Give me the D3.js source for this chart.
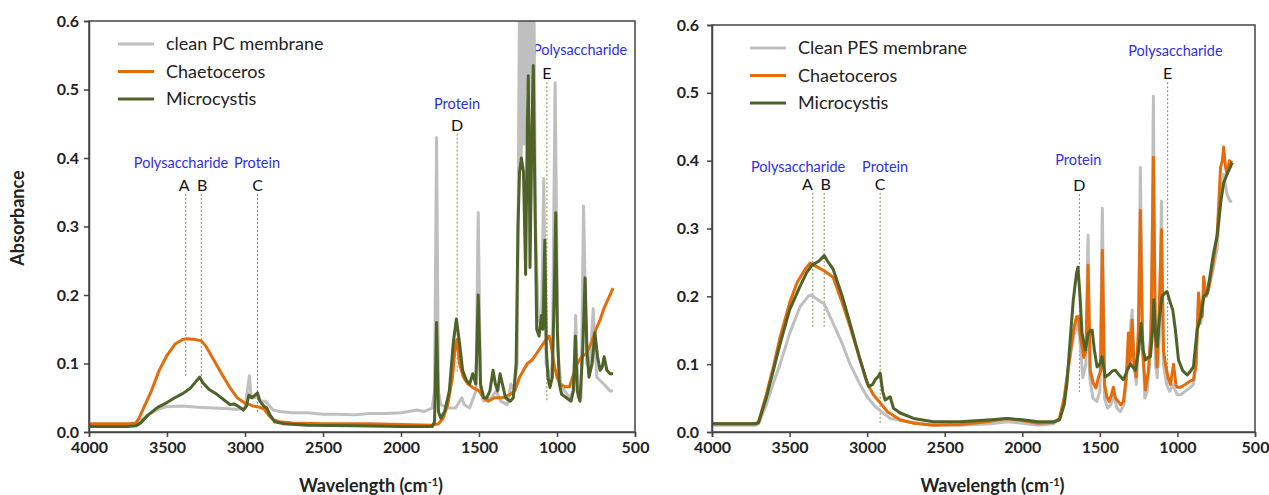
<!DOCTYPE html>
<html lang="en">
<head>
  <meta charset="UTF-8">
  <title>FTIR spectra of fouled membranes</title>
  <script src="https://d3js.org/d3.v7.min.js"></script>
  <style>
    body { margin: 0; background: #fff; }
    .tick text { font-family: Lato, "Open Sans", sans-serif; font-size: 16px; font-weight: bold; fill: #222; }
    .tick line, .domain { stroke: #444; stroke-width: 1.5px; }
    .frame { fill: none; stroke: #444; stroke-width: 1.5px; }
    .spec { fill: none; stroke-width: 3px; stroke-linejoin: round; }
    .legend text { font-family: Lato, "Open Sans", sans-serif; font-size: 18px; fill: #222; }
    .group { font-family: Lato, "Open Sans", sans-serif; font-size: 14.5px; fill: #3030e0; text-anchor: middle; }
    .letter { font-family: Lato, "Open Sans", sans-serif; font-size: 16px; fill: #111; text-anchor: middle; }
    .mark { stroke: #8a8a40; stroke-width: 1px; stroke-dasharray: 2,2; }
    .axis-title { font-family: Lato, "Open Sans", sans-serif; font-size: 18px; font-weight: bold; fill: #222; }
  </style>
</head>
<body>
<svg id="chart" width="1269" height="495"></svg>

<script>
  // ticks
  const xTicks = [4000, 3500, 3000, 2500, 2000, 1500, 1000, 500];
  const yTicks = [0, 0.1, 0.2, 0.3, 0.4, 0.5, 0.6];

  const seriesNames = ["Chaetoceros", "Microcystis"];
  const colors = ["#bfbfbf", "#e46c0a", "#4f6228"];

  // left panel: PC membrane, [wavenumber, absorbance]
  const pcClean = [[4000,0.01],[3750,0.01],[3700,0.012],[3650,0.02],[3600,0.028],[3550,0.034],[3500,0.037],[3400,0.038],[3300,0.036],[3200,0.035],[3100,0.034],[3050,0.033],[3000,0.035],[2985,0.06],[2972,0.082],[2960,0.05],[2935,0.05],[2920,0.055],[2900,0.045],[2870,0.045],[2850,0.04],[2820,0.032],[2780,0.03],[2700,0.028],[2600,0.028],[2500,0.026],[2400,0.026],[2300,0.025],[2200,0.027],[2100,0.027],[2000,0.028],[1950,0.03],[1900,0.032],[1850,0.03],[1800,0.035],[1785,0.06],[1772,0.43],[1760,0.06],[1745,0.04],[1700,0.035],[1650,0.035],[1610,0.05],[1595,0.04],[1560,0.035],[1520,0.06],[1505,0.32],[1490,0.06],[1470,0.045],[1420,0.05],[1390,0.06],[1360,0.045],[1320,0.04],[1295,0.07],[1275,0.06],[1255,0.1],[1240,0.65],[1230,0.4],[1220,0.65],[1210,0.42],[1198,0.65],[1185,0.5],[1172,0.65],[1160,0.48],[1148,0.65],[1138,0.3],[1120,0.17],[1100,0.15],[1085,0.37],[1070,0.1],[1045,0.08],[1030,0.1],[1012,0.51],[995,0.12],[975,0.07],[950,0.06],[920,0.05],[895,0.06],[880,0.17],[865,0.05],[845,0.05],[830,0.33],[810,0.1],[790,0.09],[768,0.18],[745,0.08],[700,0.07],[660,0.06],[641,0.06]];
  const pcChaeto = [[4000,0.012],[3750,0.012],[3700,0.013],[3680,0.02],[3640,0.04],[3600,0.06],[3550,0.09],[3500,0.112],[3450,0.128],[3400,0.135],[3370,0.136],[3320,0.135],[3280,0.133],[3250,0.125],[3200,0.105],[3150,0.085],[3100,0.066],[3050,0.05],[3000,0.042],[2970,0.04],[2950,0.038],[2920,0.037],[2880,0.034],[2850,0.025],[2820,0.018],[2780,0.015],[2700,0.013],[2500,0.012],[2200,0.012],[2000,0.011],[1800,0.01],[1760,0.012],[1730,0.02],[1700,0.04],[1670,0.08],[1650,0.13],[1640,0.135],[1625,0.1],[1600,0.08],[1570,0.07],[1540,0.065],[1500,0.06],[1470,0.05],[1440,0.045],[1400,0.05],[1350,0.05],[1300,0.055],[1270,0.06],[1240,0.08],[1215,0.09],[1190,0.1],[1160,0.105],[1130,0.115],[1100,0.125],[1070,0.135],[1050,0.14],[1040,0.13],[1020,0.1],[1000,0.08],[980,0.07],[950,0.066],[920,0.066],[900,0.08],[870,0.1],[840,0.11],[810,0.115],[780,0.13],[750,0.15],[725,0.163],[700,0.18],[670,0.195],[641,0.21]];
  const pcMicro = [[4000,0.008],[3750,0.008],[3700,0.009],[3670,0.013],[3620,0.025],[3560,0.036],[3500,0.043],[3450,0.05],[3400,0.056],[3350,0.064],[3310,0.075],[3290,0.08],[3270,0.072],[3230,0.062],[3180,0.055],[3130,0.046],[3096,0.04],[3070,0.041],[3040,0.037],[3010,0.032],[2990,0.038],[2975,0.054],[2955,0.05],[2935,0.054],[2920,0.057],[2905,0.045],[2880,0.038],[2860,0.035],[2840,0.025],[2810,0.015],[2750,0.012],[2600,0.01],[2300,0.009],[2000,0.008],[1800,0.008],[1785,0.015],[1772,0.16],[1760,0.03],[1745,0.02],[1720,0.03],[1690,0.06],[1665,0.13],[1645,0.165],[1625,0.13],[1605,0.09],[1580,0.075],[1560,0.07],[1540,0.085],[1520,0.07],[1505,0.2],[1490,0.07],[1470,0.05],[1450,0.05],[1430,0.06],[1410,0.09],[1395,0.07],[1380,0.06],[1365,0.085],[1350,0.07],[1330,0.05],[1300,0.045],[1280,0.05],[1262,0.1],[1250,0.3],[1240,0.38],[1228,0.4],[1215,0.38],[1201,0.23],[1190,0.45],[1184,0.52],[1178,0.4],[1173,0.24],[1160,0.45],[1152,0.535],[1142,0.35],[1130,0.15],[1115,0.14],[1100,0.17],[1090,0.15],[1078,0.28],[1068,0.12],[1058,0.08],[1045,0.065],[1030,0.08],[1018,0.2],[1008,0.32],[998,0.15],[985,0.07],[970,0.055],[940,0.05],[910,0.045],[895,0.06],[882,0.14],[870,0.06],[853,0.045],[835,0.12],[820,0.225],[808,0.12],[795,0.08],[775,0.1],[757,0.145],[740,0.11],[724,0.09],[710,0.095],[698,0.11],[680,0.09],[660,0.085],[641,0.085]];

  // right panel: PES membrane
  const pesClean = [[4000,0.01],[3720,0.01],[3700,0.012],[3650,0.04],[3600,0.075],[3561,0.1],[3500,0.145],[3432,0.185],[3380,0.2],[3361,0.202],[3300,0.192],[3277,0.189],[3219,0.16],[3160,0.13],[3110,0.1],[3050,0.072],[3000,0.052],[2950,0.038],[2897,0.028],[2850,0.02],[2742,0.015],[2600,0.011],[2400,0.01],[2200,0.012],[2100,0.015],[2000,0.013],[1900,0.01],[1800,0.012],[1760,0.018],[1730,0.05],[1700,0.1],[1670,0.14],[1645,0.16],[1630,0.14],[1610,0.08],[1590,0.1],[1576,0.29],[1565,0.08],[1545,0.05],[1520,0.045],[1500,0.06],[1484,0.33],[1470,0.05],[1450,0.035],[1430,0.04],[1410,0.055],[1390,0.035],[1368,0.03],[1345,0.04],[1320,0.1],[1300,0.16],[1292,0.18],[1280,0.1],[1265,0.07],[1250,0.14],[1239,0.39],[1225,0.15],[1210,0.05],[1195,0.06],[1180,0.1],[1165,0.2],[1155,0.495],[1142,0.1],[1130,0.08],[1115,0.15],[1103,0.34],[1090,0.1],[1070,0.07],[1050,0.06],[1030,0.07],[1002,0.055],[980,0.055],[950,0.06],[920,0.065],[897,0.07],[880,0.1],[865,0.19],[850,0.16],[830,0.2],[800,0.21],[770,0.24],[744,0.27],[720,0.35],[702,0.38],[680,0.35],[660,0.34],[647,0.34]];
  const pesChaeto = [[4000,0.012],[3720,0.012],[3700,0.015],[3650,0.055],[3600,0.1],[3561,0.14],[3500,0.19],[3452,0.22],[3400,0.24],[3368,0.249],[3320,0.243],[3280,0.238],[3219,0.228],[3160,0.19],[3110,0.155],[3050,0.11],[3000,0.072],[2960,0.055],[2916,0.043],[2870,0.03],[2787,0.018],[2700,0.013],[2574,0.01],[2400,0.011],[2200,0.016],[2100,0.02],[2000,0.017],[1900,0.013],[1800,0.014],[1760,0.02],[1730,0.05],[1700,0.1],[1670,0.15],[1650,0.17],[1639,0.17],[1625,0.14],[1604,0.11],[1590,0.12],[1576,0.246],[1562,0.09],[1542,0.072],[1525,0.065],[1510,0.08],[1495,0.09],[1484,0.268],[1470,0.07],[1455,0.052],[1440,0.045],[1425,0.055],[1413,0.066],[1400,0.05],[1381,0.045],[1365,0.04],[1348,0.045],[1330,0.08],[1316,0.146],[1305,0.1],[1292,0.165],[1280,0.1],[1266,0.081],[1252,0.15],[1239,0.327],[1225,0.12],[1206,0.062],[1187,0.09],[1170,0.15],[1155,0.405],[1142,0.14],[1131,0.096],[1115,0.2],[1103,0.298],[1090,0.12],[1077,0.1],[1060,0.08],[1045,0.07],[1025,0.1],[1010,0.07],[1002,0.066],[980,0.066],[950,0.07],[920,0.075],[897,0.077],[880,0.1],[864,0.205],[850,0.17],[840,0.17],[831,0.229],[815,0.2],[800,0.21],[770,0.25],[744,0.29],[722,0.39],[710,0.4],[702,0.42],[690,0.39],[680,0.38],[665,0.4],[647,0.397]];
  const pesMicro = [[4000,0.012],[3720,0.012],[3700,0.014],[3650,0.05],[3600,0.095],[3561,0.13],[3500,0.18],[3432,0.215],[3390,0.235],[3355,0.246],[3310,0.252],[3277,0.26],[3250,0.25],[3219,0.24],[3160,0.2],[3110,0.16],[3050,0.11],[3010,0.08],[2990,0.067],[2965,0.07],[2948,0.077],[2925,0.083],[2916,0.087],[2900,0.06],[2884,0.047],[2865,0.05],[2852,0.052],[2830,0.035],[2787,0.028],[2700,0.02],[2574,0.015],[2400,0.015],[2200,0.018],[2100,0.02],[2000,0.018],[1900,0.015],[1800,0.015],[1760,0.018],[1730,0.04],[1712,0.072],[1690,0.14],[1671,0.195],[1650,0.235],[1641,0.243],[1628,0.2],[1615,0.146],[1594,0.121],[1574,0.146],[1560,0.15],[1550,0.15],[1535,0.12],[1518,0.096],[1500,0.1],[1486,0.111],[1465,0.081],[1440,0.085],[1420,0.09],[1400,0.091],[1380,0.085],[1348,0.077],[1325,0.09],[1303,0.1],[1285,0.095],[1271,0.091],[1250,0.12],[1234,0.16],[1220,0.12],[1206,0.106],[1190,0.11],[1174,0.111],[1160,0.15],[1152,0.195],[1140,0.14],[1131,0.126],[1115,0.17],[1099,0.2],[1080,0.205],[1067,0.207],[1045,0.19],[1030,0.18],[1013,0.15],[993,0.106],[965,0.09],[937,0.084],[915,0.09],[897,0.096],[873,0.15],[850,0.17],[830,0.2],[808,0.205],[790,0.23],[770,0.26],[744,0.29],[720,0.34],[702,0.367],[680,0.38],[660,0.39],[647,0.397]];

  // band markers: letter, line wavenumber, letter wavenumber, letter baseline, bottom of dotted line
  const pcMarks = [["A",3380,3390,0.352,0.079],["B",3280,3275,0.352,0.061],["C",2920,2920,0.352,0.028],["D",1640,1640,0.44,0.088],["E",1065,1065,0.515,0.044]];
  const pesMarks = [["A",3350,3385,0.357,0.155],["B",3277,3268,0.357,0.155],["C",2916,2916,0.357,0.013],["D",1632,1632,0.355,0.059],["E",1063,1063,0.52,0.062]];
  // group names: text, wavenumber (centre), baseline
  const pcGroups = [["Polysaccharide",3410,0.385],["Protein",2923,0.385],["Protein",1641,0.472],["Polysaccharide",852,0.55]];
  const pesGroups = [["Polysaccharide",3445,0.383],["Protein",2884,0.383],["Protein",1639,0.394],["Polysaccharide",1013,0.555]];

  const svg = d3.select("#chart");

  function drawPanel(p) {
    const x = d3.scaleLinear().domain([4000, 500]).range([p.left, p.right]);
    const y = d3.scaleLinear().domain([0, 0.6]).range([p.bottom, p.top]);
    const g = svg.append("g");

    g.append("clipPath").attr("id", p.id + "-clip")
      .append("rect")
      .attr("x", p.left).attr("y", p.top)
      .attr("width", p.right - p.left).attr("height", p.bottom - p.top);

    // dotted band markers (under the curves)
    const marks = g.append("g");
    marks.selectAll("line").data(p.marks).join("line")
      .attr("class", "mark")
      .attr("x1", d => x(d[1])).attr("x2", d => x(d[1]))
      .attr("y1", d => y(d[3]) + 3).attr("y2", d => y(d[4]));

    const line = d3.line().x(d => x(d[0])).y(d => y(d[1]));
    const curves = g.append("g").attr("clip-path", `url(#${p.id}-clip)`);
    curves.selectAll("path").data(p.series).join("path")
      .attr("class", "spec")
      .attr("stroke", (d, i) => colors[i])
      .attr("d", line);

    marks.selectAll("text.letter").data(p.marks).join("text")
      .attr("class", "letter")
      .attr("x", d => x(d[2])).attr("y", d => y(d[3]))
      .text(d => d[0]);
    marks.selectAll("text.group").data(p.groups).join("text")
      .attr("class", "group")
      .attr("x", d => x(d[1])).attr("y", d => y(d[2]))
      .text(d => d[0]);

    // frame + axes
    g.append("rect").attr("class", "frame")
      .attr("x", p.left).attr("y", p.top)
      .attr("width", p.right - p.left).attr("height", p.bottom - p.top);

    g.append("g").attr("transform", `translate(0,${p.bottom})`)
      .call(d3.axisBottom(x).tickValues(xTicks).tickSize(5).tickPadding(5).tickFormat(d3.format("d")));
    g.append("g").attr("transform", `translate(${p.left},0)`)
      .call(d3.axisLeft(y).tickValues(yTicks).tickSize(5).tickPadding(p.pad).tickFormat(d3.format(".1f")));

    // legend
    const names = [p.cleanName].concat(seriesNames);
    const lg = g.append("g").attr("class", "legend")
      .attr("transform", `translate(${p.left + p.legendDx},${p.top + 23})`);
    const item = lg.selectAll("g").data(names).join("g")
      .attr("transform", (d, i) => `translate(0,${i * 27.5})`);
    item.append("line").attr("x1", 0).attr("x2", 36).attr("y1", 0).attr("y2", 0)
      .attr("stroke", (d, i) => colors[i]).attr("stroke-width", 3);
    item.append("text").attr("x", 48).attr("y", 6).text(d => d);

    // x title
    const t = g.append("text").attr("class", "axis-title")
      .attr("x", (p.left + p.right) / 2 + 9).attr("y", 492).attr("text-anchor", "middle");
    t.append("tspan").text("Wavelength (cm");
    t.append("tspan").attr("dy", -6).attr("font-size", 11).text("-1");
    t.append("tspan").attr("dy", 6).text(")");
  }

  drawPanel({id: "pc", left: 89, right: 635, top: 21, bottom: 432, pad: 5, legendDx: 29,
    series: [pcClean, pcChaeto, pcMicro], marks: pcMarks, groups: pcGroups, cleanName: "clean PC membrane"});
  drawPanel({id: "pes", left: 712, right: 1255, top: 25, bottom: 432, pad: 8, legendDx: 38,
    series: [pesClean, pesChaeto, pesMicro], marks: pesMarks, groups: pesGroups, cleanName: "Clean PES membrane"});

  svg.append("text").attr("class", "axis-title")
    .attr("transform", "translate(24,218) rotate(-90)")
    .attr("text-anchor", "middle")
    .style("font-size", "18px")
    .text("Absorbance");
</script>
</body>
</html>
